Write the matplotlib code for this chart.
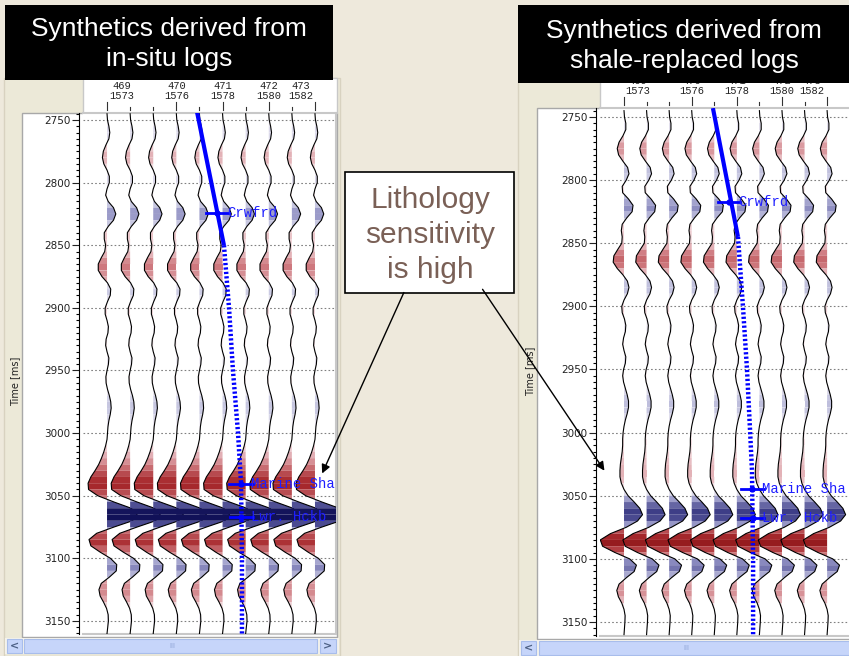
import numpy as np
import matplotlib
matplotlib.use("Agg")
import matplotlib.pyplot as plt
from matplotlib.collections import PolyCollection
from matplotlib.colors import LinearSegmentedColormap, Normalize
from matplotlib.patches import Rectangle
from matplotlib.ticker import MultipleLocator

W, H = 849, 656

# sample times (ms) of the synthetic traces
times = np.arange(2745, 3161, 5)

# trace amplitudes, in units of trace spacing (+ = right / blue)
insitu_amp = [0.00, 0.02, 0.08, 0.12, 0.08, -0.05, -0.16, -0.20, -0.14, 0.00,
              0.10, 0.10, 0.00, -0.06, 0.05, 0.28, 0.38, 0.28, 0.05, -0.12,
              -0.12, -0.06, -0.10, -0.25, -0.38, -0.38, -0.22, 0.02, 0.16, 0.14,
              0.02, -0.08, -0.08, 0.00, 0.06, 0.04, -0.04, -0.06, 0.00, 0.08,
              0.06, 0.00, -0.05, -0.04, 0.02, 0.10, 0.16, 0.18, 0.14, 0.08,
              0.04, 0.02, 0.00, -0.06, -0.14, -0.24, -0.36, -0.52, -0.70, -0.82,
              -0.80, -0.40, 0.30, 1.05, 1.30, 1.10, 0.30, -0.45, -0.78, -0.70,
              -0.30, 0.15, 0.42, 0.40, 0.10, -0.25, -0.35, -0.30, -0.15, -0.02,
              0.05, 0.06, 0.03, 0.00]
shale_amp = [0.00, 0.02, 0.08, 0.08, -0.05, -0.22, -0.30, -0.24, -0.05, 0.16,
             0.22, 0.10, -0.08, -0.06, 0.20, 0.40, 0.36, 0.12, -0.08, -0.12,
             -0.08, -0.10, -0.28, -0.45, -0.48, -0.30, -0.05, 0.15, 0.22, 0.15,
             0.00, -0.10, -0.08, 0.02, 0.08, 0.06, -0.02, -0.06, 0.00, 0.08,
             0.06, -0.02, -0.06, -0.02, 0.06, 0.14, 0.20, 0.20, 0.14, 0.06,
             0.00, -0.04, -0.06, -0.06, -0.08, -0.12, -0.16, -0.18, -0.18, -0.12,
             0.00, 0.18, 0.45, 0.70, 0.82, 0.60, 0.10, -0.60, -1.05, -0.95,
             -0.40, 0.25, 0.55, 0.45, 0.10, -0.22, -0.32, -0.25, -0.10, 0.00,
             0.05, 0.04, 0.02, 0.00]

traces = list(range(10))
major_traces = [0, 3, 5, 7, 9]
trace_top = ["469", "470", "471", "472", "473"]
trace_bot = ["1573", "1576", "1578", "1580", "1582"]
trace_lab_pos = [0, 3, 5, 7, 9]
time_ticks = [2750, 2800, 2850, 2900, 2950, 3000, 3050, 3100, 3150]

# well path (trace position, time) and formation tops
insitu_well_solid = ([3.90, 5.06], [2744, 2850])
insitu_well_dot = ([5.06, 5.28, 5.45, 5.67, 5.80, 5.84, 5.84], [2850, 2900, 2950, 3000, 3040, 3100, 3161])
insitu_tops = ["Crwfrd", "Marine Sha", "Lwr. Hckb"]
insitu_tops_t = [2824, 3041, 3067]
insitu_tops_x = [4.78, 5.80, 5.81]

shale_well_solid = ([3.94, 5.05], [2743, 2845])
shale_well_dot = ([5.05, 5.27, 5.45, 5.59, 5.67, 5.72, 5.72], [2845, 2900, 2950, 3000, 3030, 3100, 3161])
shale_tops = ["Crwfrd", "Marine Sha", "Lwr. Hckb"]
shale_tops_t = [2817, 3045, 3068]
shale_tops_x = [4.65, 5.69, 5.70]

cmap = LinearSegmentedColormap.from_list("synth", [
    (0.00, "#7E0A0C"), (0.20, "#A82A2E"), (0.35, "#CD767C"), (0.45, "#E8C0C5"),
    (0.50, "#F8F0F2"), (0.55, "#D0D0E6"), (0.65, "#8C8CC0"), (0.80, "#3A3A84"),
    (1.00, "#08084E")])
norm = Normalize(-1.3, 1.3)

BLUE = "#0000FF"
BEIGE = "#EEE9DC"


def px_rect(x0, y0, x1, y1):
    return [x0 / W, 1 - y1 / H, (x1 - x0) / W, (y1 - y0) / H]


def draw_traces(ax, amps):
    amps = np.asarray(amps)
    for n, k in enumerate(traces):
        polys, cols = [], []
        for i in range(len(times) - 1):
            a0, a1 = amps[i], amps[i + 1]
            t0, t1 = times[i], times[i + 1]
            if a0 * a1 < 0:
                tz = t0 + (t1 - t0) * a0 / (a0 - a1)
                polys.append([(k, t0), (k + a0, t0), (k, tz)])
                cols.append(cmap(norm(a0)))
                polys.append([(k, tz), (k + a1, t1), (k, t1)])
                cols.append(cmap(norm(a1)))
            else:
                polys.append([(k, t0), (k + a0, t0), (k + a1, t1), (k, t1)])
                cols.append(cmap(norm((a0 + a1) / 2)))
        ax.add_collection(PolyCollection(polys, facecolors=cols, edgecolors="none",
                                         zorder=3 + 2 * n))
        ax.plot(k + amps, times, color="black", lw=0.8, zorder=4 + 2 * n)


def panel(data_px, head_px, xlim, ylim, amps, solid, dot, tops, tops_t, tops_x,
          lab_off, right_spine):
    ax = fig.add_axes(px_rect(*data_px))
    ax.set_zorder(5)
    ax.set_xlim(*xlim)
    ax.set_ylim(*ylim)
    ax.set_axisbelow(True)
    ax.yaxis.grid(True, which="major", linestyle=(0, (1.5, 2)), color="#808080", lw=0.8)
    draw_traces(ax, amps)

    ax.plot(solid[0], solid[1], color=BLUE, lw=3, zorder=40, solid_capstyle="butt")
    ax.plot(dot[0], dot[1], color=BLUE, lw=3.2, linestyle=(0, (0.5, 0.5)), zorder=40)
    for name, t, x in zip(tops, tops_t, tops_x):
        ax.plot([x - 0.5, x + 0.5], [t, t], color=BLUE, lw=2, zorder=41)
        ax.plot(x, t, "o", color=BLUE, ms=3.5, zorder=41)
        ax.text(x + 0.42, t, name, color="#1E1EFF", fontsize=10, family="Liberation Mono",
                va="center", ha="left", zorder=42, clip_on=True)

    ax.set_xticks([])
    ax.set_yticks(time_ticks)
    ax.yaxis.set_minor_locator(MultipleLocator(5))
    ax.tick_params(axis="y", which="major", direction="out", length=5, width=0.8,
                   labelsize=7.5, pad=1, colors="#222222")
    ax.tick_params(axis="y", which="minor", direction="out", length=2.5, width=0.8)
    ax.spines["left"].set_position(("outward", 3))
    ax.spines["left"].set_linewidth(0.8)
    for s in ["top", "right", "bottom"]:
        ax.spines[s].set_color("#C8C8C8")
        ax.spines[s].set_linewidth(1.5)
    ax.spines["right"].set_visible(right_spine)

    # trace header: ticks and inline / crossline numbers
    hd = fig.add_axes(px_rect(*head_px))
    hd.set_zorder(5)
    hd.set_xlim(*xlim)
    hd.set_ylim(0, 1)
    hd.axis("off")
    h = head_px[3] - head_px[1]
    for k in traces:
        top = 11 / h if k in major_traces else 6 / h
        hd.plot([k, k], [3 / h, top], color="#333333", lw=0.8)
    for k, t1, t2, off in zip(trace_lab_pos, trace_top, trace_bot, lab_off):
        hd.text(k + off, 27 / h, t1, ha="center", va="center", fontsize=7.5,
                family="Liberation Mono", color="#222222")
        hd.text(k + off, 17 / h, t2, ha="center", va="center", fontsize=7.5,
                family="Liberation Mono", color="#222222")
    return ax


fig = plt.figure(figsize=(W / 100, H / 100), dpi=100, facecolor=BEIGE)

bg = fig.add_axes([0, 0, 1, 1])
bg.set_xlim(0, W)
bg.set_ylim(H, 0)
bg.axis("off")
bg.set_zorder(0)

# window frames and white plot boxes
bg.add_patch(Rectangle((4, 78), 336, 578, facecolor="#ECE9D8", edgecolor="#D8D2C0", lw=1))
bg.add_patch(Rectangle((22, 113), 315, 524, facecolor="white", edgecolor="#A8A8A8", lw=1))
bg.add_patch(Rectangle((83, 78), 254, 35, facecolor="white", edgecolor="#C8C8C8", lw=1))
bg.add_patch(Rectangle((518, 80), 340, 576, facecolor="#ECE9D8", edgecolor="#D8D2C0", lw=1))
bg.add_patch(Rectangle((537, 108), 320, 531, facecolor="white", edgecolor="#A8A8A8", lw=1))
bg.add_patch(Rectangle((600, 80), 260, 28, facecolor="white", edgecolor="#C8C8C8", lw=1))

panel((83, 113, 336, 634), (83, 78, 336, 113), (-1.04, 9.91), (3160.4, 2744.4),
      insitu_amp, insitu_well_solid, insitu_well_dot, insitu_tops,
      insitu_tops_t, insitu_tops_x, [0.63, 0, 0, 0, -0.62], True)
panel((600, 108, 849, 636), (600, 78, 849, 108), (-1.064, 9.97), (3161.1, 2742.9),
      shale_amp, shale_well_solid, shale_well_dot, shale_tops,
      shale_tops_t, shale_tops_x, [0.62, 0, 0, 0, -0.66], False)

fg = fig.add_axes([0, 0, 1, 1])
fg.set_xlim(0, W)
fg.set_ylim(H, 0)
fg.axis("off")
fg.set_zorder(20)
fg.patch.set_visible(False)

fg.text(15, 381, "Time [ms]", rotation=90, ha="center", va="center", fontsize=7, color="#222222")
fg.text(530, 371, "Time [ms]", rotation=90, ha="center", va="center", fontsize=7, color="#222222")

# title boxes
fg.add_patch(Rectangle((5, 5), 328, 75, facecolor="black", edgecolor="none"))
fg.text(169, 44, "Synthetics derived from\nin-situ logs", color="white", fontsize=19,
        family="Liberation Sans", ha="center", va="center", linespacing=1.35)
fg.add_patch(Rectangle((518, 5), 340, 78, facecolor="black", edgecolor="none"))
fg.text(684, 46, "Synthetics derived from\nshale-replaced logs", color="white", fontsize=19,
        family="Liberation Sans", ha="center", va="center", linespacing=1.35)

# callout
fg.add_patch(Rectangle((345, 172), 169, 121, facecolor="white", edgecolor="black", lw=1.2))
fg.text(430, 235, "Lithology\nsensitivity\nis high", color="#7A6056", fontsize=21.5,
        family="Liberation Sans", ha="center", va="center", linespacing=1.33)
fg.annotate("", xy=(321, 476), xytext=(405, 290),
            arrowprops=dict(arrowstyle="-|>", color="black", lw=1, mutation_scale=13))
fg.annotate("", xy=(606, 473), xytext=(481, 287),
            arrowprops=dict(arrowstyle="-|>", color="black", lw=1, mutation_scale=13))


def scrollbar(x0, x1, y0, thumb0, thumb1, grip):
    fg.add_patch(Rectangle((x0, y0), x1 - x0, 16, facecolor="#F4F2EC", edgecolor="none"))
    fg.add_patch(Rectangle((x0 + 2, y0 + 1), 15, 14, facecolor="#C6D5FA", edgecolor="#A8BDEB", lw=0.8))
    fg.text(x0 + 9.5, y0 + 8, "<", ha="center", va="center", fontsize=8, color="#4D6185",
            fontweight="bold")
    fg.add_patch(Rectangle((thumb0, y0 + 1), thumb1 - thumb0, 14, facecolor="#C6D5FA",
                           edgecolor="#A8BDEB", lw=0.8))
    fg.text(grip, y0 + 8, "III", ha="center", va="center", fontsize=5, color="#8FA4D6")


scrollbar(5, 339, 638, 24, 317, 172)
fg.add_patch(Rectangle((320, 639), 16, 14, facecolor="#C6D5FA", edgecolor="#A8BDEB", lw=0.8))
fg.text(328, 646, ">", ha="center", va="center", fontsize=8, color="#4D6185", fontweight="bold")
scrollbar(519, 849, 640, 539, 852, 686)

fig.savefig("out.png", dpi=100, facecolor=BEIGE)
